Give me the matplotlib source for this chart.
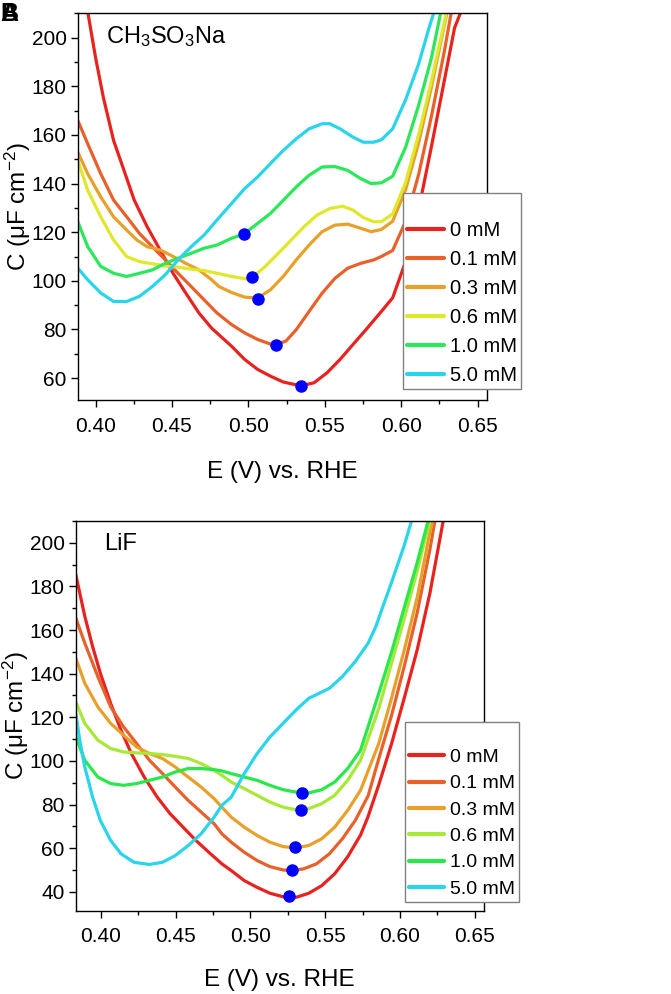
import matplotlib
matplotlib.use("Agg")
import matplotlib.pyplot as plt
from matplotlib.ticker import MultipleLocator

plt.rcParams["font.family"] = ["Liberation Sans", "DejaVu Sans"]
plt.rcParams["mathtext.fontset"] = "custom"
plt.rcParams["mathtext.rm"] = "Liberation Sans"
plt.rcParams["mathtext.it"] = "Liberation Sans:italic"

labels = ["0 mM", "0.1 mM", "0.3 mM", "0.6 mM", "1.0 mM", "5.0 mM"]
colors_top = ["#e8231f", "#e8612a", "#e8a02a", "#dfe82a", "#2ae85a", "#2ad4ea"]
colors_bot = ["#e8231f", "#e8612a", "#e8a02a", "#a8e838", "#2ae84a", "#2ad4ea"]

# ---- CH3SO3Na panel (E in V vs RHE, C in uF cm-2)
top_E = [
    [0.3945, 0.400, 0.4051, 0.4118, 0.4186, 0.4253, 0.4338, 0.4422, 0.4507, 0.459, 0.4676, 0.476, 0.489, 0.4975, 0.506, 0.5144, 0.5228, 0.5343, 0.543, 0.5515, 0.560, 0.5684, 0.5769, 0.587, 0.5944, 0.6029, 0.6113, 0.6197, 0.6281, 0.6349, 0.6399],
    [0.3884, 0.3949, 0.4034, 0.4118, 0.422, 0.4287, 0.4372, 0.4456, 0.454, 0.4625, 0.471, 0.4794, 0.489, 0.4975, 0.506, 0.5144, 0.5178, 0.5245, 0.5313, 0.5397, 0.5482, 0.5566, 0.565, 0.5735, 0.582, 0.587, 0.5944, 0.6029, 0.6113, 0.6197, 0.6281, 0.6332],
    [0.3884, 0.3949, 0.4034, 0.4118, 0.4203, 0.427, 0.4338, 0.4422, 0.449, 0.459, 0.4676, 0.476, 0.4806, 0.489, 0.4975, 0.506, 0.5144, 0.5228, 0.5313, 0.5397, 0.5482, 0.5566, 0.565, 0.5735, 0.5803, 0.587, 0.5944, 0.6029, 0.6113, 0.6197, 0.6305],
    [0.3884, 0.3949, 0.4034, 0.4118, 0.4203, 0.4287, 0.4372, 0.4456, 0.454, 0.4625, 0.471, 0.4794, 0.489, 0.4992, 0.5026, 0.511, 0.5195, 0.528, 0.5363, 0.5448, 0.5532, 0.5617, 0.5684, 0.5752, 0.582, 0.587, 0.5944, 0.6029, 0.6113, 0.6197, 0.6281, 0.630],
    [0.3884, 0.3949, 0.4034, 0.4118, 0.4203, 0.4287, 0.4372, 0.4456, 0.454, 0.4625, 0.471, 0.4794, 0.489, 0.497, 0.506, 0.5144, 0.5228, 0.5313, 0.5397, 0.5482, 0.5566, 0.565, 0.5735, 0.5803, 0.587, 0.5944, 0.6029, 0.6113, 0.6197, 0.6264],
    [0.3884, 0.3949, 0.4034, 0.4118, 0.4203, 0.4287, 0.4372, 0.4456, 0.454, 0.4625, 0.471, 0.4794, 0.489, 0.4975, 0.506, 0.5144, 0.5228, 0.5313, 0.5397, 0.5482, 0.5532, 0.560, 0.5684, 0.5752, 0.582, 0.587, 0.5944, 0.6029, 0.6113, 0.618, 0.6222],
]
top_C = [
    [212, 191.8, 175.4, 157.7, 145.4, 133.2, 122.2, 112.7, 103.1, 95, 86.8, 80.5, 73.1, 67.7, 63.6, 60.8, 58.4, 56.8, 58.1, 62.2, 67.7, 73.8, 79.9, 87.4, 93, 108, 129, 155, 182, 204, 212],
    [165.9, 156.3, 144, 133.2, 125, 119.5, 114, 108.6, 103.1, 97.7, 92.2, 86.8, 82, 78.6, 75.9, 74, 73.8, 75.2, 79.9, 87.4, 94.9, 101, 105.2, 107.2, 108.6, 110, 112.5, 124.5, 143.5, 167.5, 194, 212],
    [152.9, 144, 134.5, 126.3, 120.9, 116.8, 114, 112.7, 110.6, 107.2, 104.5, 100.4, 97.7, 95.2, 93.3, 92.9, 96.3, 101.8, 108.6, 114.7, 120.2, 122.9, 123.3, 121.6, 120.2, 121.1, 124.5, 137.5, 156.5, 179.5, 212],
    [149.5, 137.2, 126.3, 116.8, 110, 107.9, 107, 106.1, 105.6, 104.8, 104.2, 103.1, 101.8, 100.7, 101.4, 105.9, 111.3, 116.8, 122.2, 127, 129.7, 130.7, 129.1, 126, 124.3, 124.3, 127.5, 140.5, 160, 182, 206, 212],
    [124.3, 114, 105.9, 103.1, 101.8, 103.1, 104.5, 107.2, 109.3, 111.3, 113.4, 114.7, 117.5, 119.2, 123.6, 127.7, 133.1, 138.6, 143.4, 146.8, 147, 145.4, 142, 140, 140.3, 143, 155, 172, 191.5, 212],
    [105.2, 100.4, 95, 91.5, 91.5, 93.6, 97.7, 102.5, 108.6, 114, 118.8, 125, 131.8, 137.9, 142.7, 148.2, 153.6, 158.4, 162.5, 164.6, 164.6, 162.5, 159.1, 157, 157, 158, 162.5, 174.5, 189, 203.6, 212],
]
top_min_E = [0.5343, 0.5178, 0.5063, 0.5026, 0.497]
top_min_C = [56.8, 73.8, 92.6, 101.4, 119.2]

# ---- LiF panel
bot_E = [
    [0.3833, 0.3893, 0.3945, 0.3997, 0.4066, 0.4135, 0.4204, 0.429, 0.4377, 0.4463, 0.455, 0.4636, 0.4722, 0.4809, 0.4872, 0.4959, 0.5045, 0.5131, 0.5218, 0.5304, 0.539, 0.5477, 0.5563, 0.565, 0.5736, 0.5784, 0.5858, 0.5944, 0.6029, 0.6115, 0.620, 0.6294],
    [0.3833, 0.3893, 0.398, 0.4066, 0.4152, 0.4239, 0.4325, 0.4412, 0.4498, 0.4584, 0.4671, 0.4757, 0.4809, 0.4872, 0.4959, 0.5045, 0.5131, 0.5218, 0.5276, 0.5356, 0.5442, 0.5528, 0.5615, 0.5701, 0.5787, 0.5858, 0.5944, 0.6029, 0.6115, 0.620, 0.6238],
    [0.3833, 0.3893, 0.398, 0.4066, 0.4152, 0.4239, 0.4325, 0.4412, 0.4498, 0.4584, 0.4671, 0.4757, 0.4809, 0.4872, 0.4959, 0.5045, 0.5131, 0.5218, 0.5304, 0.539, 0.5477, 0.5563, 0.565, 0.5736, 0.5858, 0.5944, 0.6029, 0.6115, 0.620, 0.6226],
    [0.3833, 0.3893, 0.398, 0.4066, 0.4152, 0.4239, 0.4325, 0.4412, 0.4498, 0.4584, 0.4671, 0.4757, 0.4809, 0.4872, 0.4959, 0.5045, 0.5131, 0.5218, 0.5304, 0.539, 0.5477, 0.5563, 0.565, 0.5736, 0.5858, 0.5944, 0.6029, 0.6115, 0.6205],
    [0.3833, 0.3893, 0.398, 0.4066, 0.4152, 0.4239, 0.4325, 0.4412, 0.4498, 0.4584, 0.4671, 0.4757, 0.4809, 0.4872, 0.4959, 0.5045, 0.5131, 0.5218, 0.5304, 0.539, 0.5477, 0.5563, 0.565, 0.5736, 0.5858, 0.5944, 0.6029, 0.6115, 0.6195],
    [0.3833, 0.3859, 0.3893, 0.3945, 0.3997, 0.4066, 0.4135, 0.4222, 0.4325, 0.4412, 0.4498, 0.4584, 0.4671, 0.4757, 0.4809, 0.4872, 0.4959, 0.5045, 0.5131, 0.5218, 0.5304, 0.539, 0.5459, 0.5528, 0.5615, 0.5701, 0.5787, 0.5839, 0.5874, 0.5944, 0.6029, 0.6085],
]
bot_C = [
    [185.4, 166.3, 152.5, 140.2, 126.4, 114.1, 103.4, 92.6, 83.4, 75.8, 69.6, 63.5, 58.1, 52.8, 49.7, 45.1, 42, 39.3, 37.7, 37.4, 39.3, 42.8, 48.2, 56, 66, 74, 89, 108, 129, 151, 177, 212],
    [165.5, 154, 138.7, 124.8, 115.6, 108, 100.3, 94.2, 88, 81.9, 76.5, 71.2, 66.6, 62.7, 58.1, 54.3, 51.5, 50, 49.7, 50.5, 52.8, 57.4, 64.3, 72.7, 84, 101, 121, 143.5, 168, 197, 212],
    [147.1, 135.6, 124.8, 117.2, 111.8, 106.4, 103.4, 101.1, 97.2, 92.6, 88, 82.7, 78.8, 74.2, 69.6, 65.8, 62.7, 60.7, 60.1, 61.2, 64.3, 69.6, 77.3, 86.5, 108, 129, 151, 175, 205, 212],
    [127.1, 117.2, 109.5, 105.7, 104.1, 103.7, 103.4, 102.9, 102.1, 101.1, 98.8, 95.7, 93.4, 90.3, 87.3, 84.2, 81.1, 78.8, 77.6, 78.1, 80.4, 84.2, 91.1, 100.3, 124, 145, 165.4, 187.1, 212],
    [111, 100.3, 92.6, 89.6, 88.8, 89.6, 91.1, 92.6, 94.9, 96.5, 96.5, 96, 95.4, 94.2, 92.6, 91.1, 88.8, 86.8, 85.7, 85.3, 86.8, 90.3, 96.5, 104.9, 131, 150, 170.5, 191, 212],
    [121.8, 109.5, 97.2, 83.4, 72.7, 63.5, 57.4, 53.5, 52.5, 53.5, 56.6, 61.2, 66.6, 74.2, 79.6, 83.4, 94.2, 103.4, 111, 117.2, 123.3, 128.7, 131, 133.3, 138.7, 145.6, 154, 161.7, 168.6, 182, 199, 212],
]
bot_min_E = [0.5257, 0.5275, 0.5297, 0.5337, 0.5348]
bot_min_C = [38, 50, 60.6, 77.5, 85.5]


def draw_panel(ax, E, C, colors, min_E, min_C, title, ylim, xlim, legend_anchor,
               xlabelpad, leg_fs, leg_spacing):
    for e, c, col, lab in zip(E, C, colors, labels):
        ax.plot(e, c, color=col, lw=2.3, label=lab, solid_capstyle="round")
    ax.plot(min_E, min_C, "o", color="#0000ff", ms=8, zorder=5)
    ax.set_xlim(*xlim)
    ax.set_ylim(*ylim)
    ax.xaxis.set_major_locator(MultipleLocator(0.05))
    ax.xaxis.set_minor_locator(MultipleLocator(0.025))
    ax.yaxis.set_major_locator(MultipleLocator(20))
    ax.yaxis.set_minor_locator(MultipleLocator(10))
    ax.xaxis.set_major_formatter(plt.FormatStrFormatter("%.2f"))
    ax.tick_params(which="both", direction="out", top=False, right=False, labelsize=15)
    ax.tick_params(axis="x", which="major", length=5, width=1, pad=7)
    ax.tick_params(axis="y", which="major", length=5, width=1, pad=3)
    ax.tick_params(which="minor", length=3, width=1)
    for s in ax.spines.values():
        s.set_linewidth(1.0)
    ax.set_xlabel("E (V) vs. RHE", fontsize=17.5, labelpad=xlabelpad)
    ax.set_ylabel("C (μF cm$^{-2}$)", fontsize=17.5, labelpad=-1)
    ax.text(0.07, 0.94, title, transform=ax.transAxes, fontsize=17, va="center", ha="left")
    leg = ax.legend(loc="lower right", bbox_to_anchor=legend_anchor, borderaxespad=0,
                    fontsize=leg_fs, handlelength=1.8, handletextpad=0.3,
                    labelspacing=leg_spacing, borderpad=0.2, title=" ",
                    title_fontsize=10, fancybox=False, framealpha=1)
    leg.get_frame().set_edgecolor("#808080")
    leg.get_frame().set_linewidth(1.0)
    for h in leg.get_lines():
        h.set_linewidth(3)


fig = plt.figure(figsize=(6.71, 9.94), dpi=100)
ax1 = fig.add_axes([0.116, 0.5976, 0.6095, 0.389])
ax2 = fig.add_axes([0.113, 0.0838, 0.608, 0.392])

draw_panel(ax1, top_E, top_C, colors_top, top_min_E, top_min_C,
           r"CH$_3$SO$_3$Na", (51, 210), (0.3884, 0.656), (1.083, 0.028), 18, 14.5, 0.5)
draw_panel(ax2, bot_E, bot_C, colors_bot, bot_min_E, bot_min_C,
           "LiF", (31.3, 210), (0.3833, 0.656), (1.086, 0.023), 16, 14, 0.45)

fig.text(0.001, 0.998, "A", fontsize=18, fontweight="bold", va="top", ha="left")
fig.text(0.001, 0.998, "B", fontsize=18, fontweight="bold", va="top", ha="left")

fig.savefig("out.png", dpi=100)
